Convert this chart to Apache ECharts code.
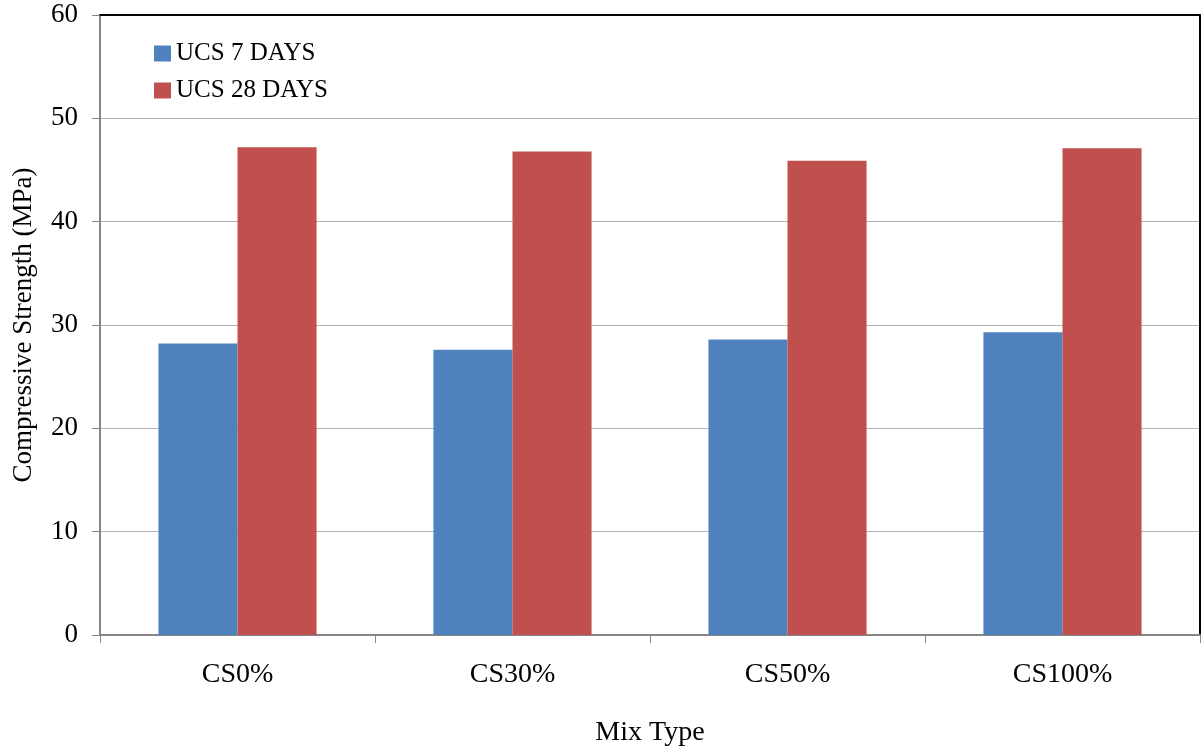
<!DOCTYPE html>
<html>
<head>
<meta charset="utf-8">
<script src="https://cdn.jsdelivr.net/npm/echarts@6/dist/echarts.min.js"></script>
<style>
html,body{margin:0;padding:0;background:#fff;}
#chart{width:1202px;height:751px;}
</style>
</head>
<body>
<div id="chart"></div>
<script>
// Mix types and unconfined compressive strength (MPa)
const categories = ['CS0%', 'CS30%', 'CS50%', 'CS100%'];
const ucs7 = [28.2, 27.6, 28.6, 29.3];
const ucs28 = [47.2, 46.8, 45.9, 47.1];
const seriesNames = ['UCS 7 DAYS', 'UCS 28 DAYS'];

const font = '"Liberation Serif", "Times New Roman", serif';
const chart = echarts.init(document.getElementById('chart'));

chart.setOption({
  animation: false,
  backgroundColor: '#fff',
  textStyle: { fontFamily: font, color: '#000' },
  grid: { left: 100, right: 2, top: 15, bottom: 116, containLabel: false, outerBoundsMode: 'none' },
  legend: {
    left: 149, top: 36, orient: 'vertical', itemGap: 12,
    itemWidth: 17, itemHeight: 16, icon: 'rect',
    textStyle: { fontFamily: font, fontSize: 25, color: '#000' },
    data: seriesNames
  },
  xAxis: [{
    type: 'category', data: categories,
    name: 'Mix Type', nameLocation: 'middle', nameGap: 84,
    nameTextStyle: { fontFamily: font, fontSize: 28, color: '#000' },
    axisLine: { lineStyle: { color: '#868686', width: 2 } },
    axisTick: { show: true, length: 8, lineStyle: { color: '#868686', width: 1 } },
    axisLabel: { fontFamily: font, fontSize: 28, color: '#000', margin: 26 },
    splitLine: { show: false }
  }, {
    // frame line along the top of the plot area
    type: 'category', position: 'top', data: categories,
    axisLine: { onZero: false, lineStyle: { color: '#000', width: 2 } },
    axisTick: { show: false }, axisLabel: { show: false }
  }],
  yAxis: [{
    type: 'value', min: 0, max: 60, interval: 10,
    name: 'Compressive Strength (MPa)', nameLocation: 'middle', nameGap: 63,
    nameTextStyle: { fontFamily: font, fontSize: 27, color: '#000' },
    axisLine: { show: true, lineStyle: { color: '#868686', width: 2 } },
    axisTick: { show: true, length: 8, lineStyle: { color: '#868686' } },
    axisLabel: { fontFamily: font, fontSize: 27, color: '#000', margin: 22 },
    splitLine: { lineStyle: { color: '#b3b3b3', width: 1 } }
  }, {
    // frame line along the right of the plot area
    type: 'value', min: 0, max: 60, interval: 10, position: 'right',
    axisLine: { show: true, onZero: false, lineStyle: { color: '#000', width: 2 } },
    axisTick: { show: false }, axisLabel: { show: false }, splitLine: { show: false }
  }],
  series: [{
    name: seriesNames[0], type: 'bar', data: ucs7,
    itemStyle: { color: '#4f81bd' },
    barGap: '0%', barCategoryGap: '42.5%'
  }, {
    name: seriesNames[1], type: 'bar', data: ucs28,
    itemStyle: { color: '#c0504d' },
    barGap: '0%', barCategoryGap: '42.5%'
  }]
});
</script>
</body>
</html>
